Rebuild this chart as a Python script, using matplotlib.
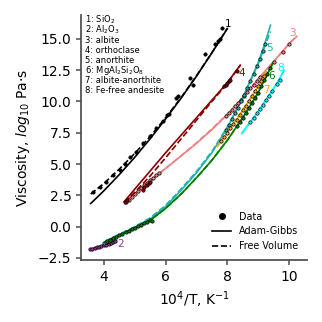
import matplotlib
matplotlib.use("Agg")
import matplotlib.pyplot as plt
from matplotlib.lines import Line2D

# ---- data ----
names = ['SiO$_2$', 'Al$_2$O$_3$', 'albite', 'orthoclase', 'anorthite',
         'MgAl$_2$Si$_2$O$_8$', 'albite-anorthite', 'Fe-free andesite']
colors = ['black', '#a030a0', 'lightcoral', 'darkred', 'lightseagreen',
          'green', 'orange', 'cyan']

# 1: SiO2
x_fit_1 = [3.57, 4.0, 4.5, 5.0, 5.5, 6.0, 6.5, 7.0, 7.5, 8.0]
ag_1 = [1.84, 2.87, 4.16, 5.54, 7.03, 8.6, 10.26, 12.02, 13.88, 15.82]
fv_1 = [2.6, 3.45, 4.6, 5.85, 7.2, 8.7, 10.3, 12.05, 13.9, 15.85]
x_dat_1 = [3.65, 3.87, 4.05, 4.3, 4.52, 4.68, 4.84, 5.05, 5.27, 5.48, 5.7, 5.91,
           6.05, 6.1, 6.35, 6.4, 6.78, 6.9, 7.27, 7.6, 7.7, 7.75, 7.83]
y_dat_1 = [2.8, 3.2, 3.6, 4.1, 4.55, 5.0, 5.6, 6.0, 6.65, 7.2, 7.85, 8.4,
           8.9, 9.0, 10.25, 10.4, 11.9, 11.3, 13.8, 14.6, 14.8, 15.0, 15.9]

# 2: Al2O3
x_fit_2 = [3.55, 3.8, 4.1, 4.4]
ag_2 = [-1.82, -1.66, -1.42, -1.12]
fv_2 = [-1.8, -1.65, -1.42, -1.14]
x_dat_2 = [3.55, 3.62, 3.7, 3.78, 3.85, 3.92, 4.0, 4.08, 4.15, 4.22, 4.3, 4.35]
y_dat_2 = [-1.8, -1.76, -1.72, -1.66, -1.62, -1.56, -1.5, -1.45, -1.38, -1.32, -1.24, -1.18]

# 3: albite
x_fit_3 = [4.7, 5.0, 5.5, 6.0, 6.5, 7.0, 7.5, 8.0, 8.5, 9.0, 9.5, 10.0, 10.25]
ag_3 = [2.0, 2.65, 3.7, 4.65, 5.65, 6.65, 7.75, 8.95, 10.3, 11.8, 13.2, 14.6, 15.2]
fv_3 = [1.95, 2.6, 3.65, 4.65, 5.65, 6.7, 7.8, 9.0, 10.3, 11.75, 13.15, 14.6, 15.25]
x_dat_3 = [4.72, 4.8, 4.9, 5.0, 5.1, 5.2, 5.3, 5.4, 5.5, 5.6, 5.7, 5.8,
           7.95, 8.05, 8.15, 8.25, 8.35, 8.45, 8.55, 8.65, 8.75, 8.85, 8.95, 9.05,
           9.5, 9.8, 10.0]
y_dat_3 = [2.0, 2.15, 2.4, 2.6, 2.85, 3.05, 3.3, 3.5, 3.7, 3.9, 4.1, 4.3,
           8.8, 9.1, 9.35, 9.65, 9.9, 10.15, 10.45, 10.75, 11.05, 11.35, 11.65, 11.95,
           13.15, 13.95, 14.6]

# 4: orthoclase
x_fit_4 = [4.66, 5.0, 5.5, 6.0, 6.5, 7.0, 7.5, 8.0, 8.42]
ag_4 = [2.0, 3.0, 4.45, 5.9, 7.3, 8.7, 10.1, 11.5, 12.9]
fv_4 = [1.95, 2.75, 4.05, 5.5, 7.0, 8.5, 10.0, 11.45, 12.9]
x_dat_4 = [4.68, 4.75, 5.25, 5.3, 5.38, 5.45, 5.5, 7.9, 7.95, 8.0, 8.05, 8.1, 8.3]
y_dat_4 = [2.0, 2.1, 2.9, 3.2, 3.3, 3.5, 3.6, 11.2, 11.3, 11.45, 11.6, 11.75, 12.4]

# 5: anorthite
x_fit_5 = [4.05, 4.5, 5.0, 5.5, 6.0, 6.5, 7.0, 7.5, 8.0, 8.5, 9.0, 9.2, 9.4]
ag_5 = [-1.2, -0.65, -0.05, 0.6, 1.6, 2.9, 4.3, 5.9, 7.9, 10.3, 13.1, 14.5, 16.1]
fv_5 = [-1.15, -0.6, 0.0, 0.7, 1.7, 3.0, 4.4, 6.0, 7.95, 10.3, 13.0, 14.3, 15.6]
x_dat_5 = [4.0, 4.08, 4.15, 4.22, 4.3,
           7.95, 8.05, 8.15, 8.25, 8.35, 8.45, 8.55, 8.65, 8.75, 8.85, 8.95, 9.05, 9.15, 9.22]
y_dat_5 = [-1.3, -1.22, -1.15, -1.05, -0.97,
           7.7, 8.15, 8.6, 9.05, 9.5, 10.0, 10.55, 11.1, 11.65, 12.2, 12.8, 13.4, 14.0, 14.6]

# 6: MgAl2Si2O8
x_fit_6 = [4.05, 4.5, 5.0, 5.5, 6.0, 6.5, 7.0, 7.5, 8.0, 8.5, 9.0, 9.47]
ag_6 = [-1.25, -0.7, -0.1, 0.5, 1.45, 2.6, 3.9, 5.3, 6.9, 8.7, 10.7, 13.05]
fv_6 = [-1.25, -0.7, -0.1, 0.5, 1.45, 2.6, 3.9, 5.3, 6.9, 8.7, 10.7, 13.0]
x_dat_6 = [4.1, 4.2, 4.3, 4.4, 4.5, 4.6, 4.7, 4.8, 4.9, 5.0, 5.1, 5.2, 5.3, 5.4, 5.5, 5.55,
           8.3, 8.4, 8.5, 8.6, 8.7, 8.8, 8.9, 9.0, 9.1, 9.2, 9.3, 9.4]
y_dat_6 = [-1.15, -1.1, -0.9, -0.85, -0.65, -0.6, -0.42, -0.38, -0.18, -0.14, 0.06, 0.1, 0.3, 0.34, 0.5, 0.45,
           8.0, 8.35, 8.7, 9.1, 9.5, 9.9, 10.3, 10.7, 11.2, 11.7, 12.2, 12.7]

# 7: albite-anorthite
x_fit_7 = [7.67, 8.0, 8.5, 9.0, 9.26]
ag_7 = [6.4, 7.5, 9.3, 11.2, 12.4]
fv_7 = [6.4, 7.5, 9.3, 11.2, 12.4]
x_dat_7 = [7.8, 7.9, 8.0, 8.1, 8.2, 8.3, 8.4, 8.5, 8.6, 8.7, 8.8, 8.9, 9.0, 9.1, 9.2]
y_dat_7 = [6.85, 7.15, 7.5, 7.85, 8.2, 8.55, 8.9, 9.3, 9.65, 10.05, 10.4, 10.8, 11.2, 11.6, 12.05]

# 8: Fe-free andesite
x_fit_8 = [8.47, 8.7, 9.0, 9.3, 9.6, 9.84]
ag_8 = [7.45, 8.2, 9.2, 10.3, 11.4, 12.5]
fv_8 = [7.45, 8.2, 9.2, 10.3, 11.4, 12.5]
x_dat_8 = [8.75, 8.85, 8.95, 9.05, 9.15, 9.25, 9.35, 9.45, 9.6, 9.7]
y_dat_8 = [8.35, 8.7, 9.05, 9.4, 9.75, 10.1, 10.45, 10.8, 11.4, 11.75]

label_xy = [(8.04, 16.2), (4.55, -1.4), (10.1, 15.5), (8.48, 12.3),
            (9.38, 14.3), (9.45, 12.0), (9.27, 10.9), (9.72, 12.7)]

fits = [(x_fit_1, ag_1, fv_1), (x_fit_2, ag_2, fv_2), (x_fit_3, ag_3, fv_3),
        (x_fit_4, ag_4, fv_4), (x_fit_5, ag_5, fv_5), (x_fit_6, ag_6, fv_6),
        (x_fit_7, ag_7, fv_7), (x_fit_8, ag_8, fv_8)]
dats = [(x_dat_1, y_dat_1), (x_dat_2, y_dat_2), (x_dat_3, y_dat_3),
        (x_dat_4, y_dat_4), (x_dat_5, y_dat_5), (x_dat_6, y_dat_6),
        (x_dat_7, y_dat_7), (x_dat_8, y_dat_8)]

fig = plt.figure(figsize=(3.22, 3.22), dpi=100)
ax = fig.add_axes([0.252, 0.193, 0.701, 0.76])

for i in range(8):
    c = colors[i]
    xf, ag, fv = fits[i]
    ax.plot(xf, ag, '-', color=c, lw=1.2, zorder=2)
    ax.plot(xf, fv, '--', color=c, lw=1.2, zorder=2)
    xd, yd = dats[i]
    ax.plot(xd, yd, 'o', ms=2.4, mfc=c, mec='black', mew=0.5, zorder=3)
    ax.text(label_xy[i][0], label_xy[i][1], str(i + 1), color=c, fontsize=7.5,
            ha='center', va='center')

# composition list
for i, n in enumerate(names):
    ax.text(0.018, 0.98 - i * 0.0413, f'{i + 1}: {n}', transform=ax.transAxes,
            fontsize=6.0, ha='left', va='center')

handles = [Line2D([], [], ls='none', marker='o', color='black', ms=4),
           Line2D([], [], ls='-', color='black', lw=1.2),
           Line2D([], [], ls='--', color='black', lw=1.2)]
ax.legend(handles, ['Data', 'Adam-Gibbs', 'Free Volume'], loc='lower right',
          frameon=False, fontsize=6.9)

ax.set_xlim(3.26, 10.58)
ax.set_ylim(-2.66, 16.9)
ax.set_xticks([4, 6, 8, 10])
ax.set_yticks([-2.5, 0.0, 2.5, 5.0, 7.5, 10.0, 12.5, 15.0])
ax.spines['top'].set_visible(False)
ax.spines['right'].set_visible(False)
for s in ['left', 'bottom']:
    ax.spines[s].set_color('0.3')
    ax.spines[s].set_linewidth(1.25)
ax.tick_params(colors='0.3', labelcolor='black', labelsize=10, width=1.1)

ax.set_xlabel('10$^4$/T, K$^{-1}$', fontsize=10)
ax.set_ylabel('Viscosity, $log_{10}$ Pa$\\cdot$s', fontsize=10)

fig.savefig('out.png', dpi=100)
